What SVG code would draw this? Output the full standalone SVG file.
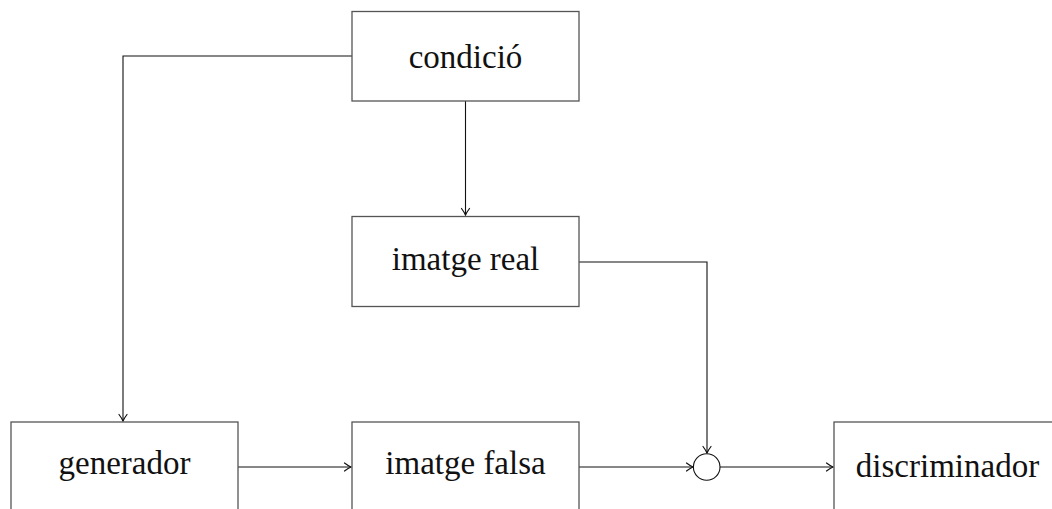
<svg xmlns="http://www.w3.org/2000/svg" width="1052" height="509" viewBox="0 0 1052 509">
<style>
.box{fill:#fff;stroke:#555;stroke-width:1.3}
.lbl{font-family:"Liberation Serif","Times New Roman",serif;font-size:33px;fill:#111;text-anchor:middle}
.c{fill:none;stroke:#111;stroke-width:1.1}
</style>
<defs>
<marker id="arr" markerUnits="userSpaceOnUse" markerWidth="12" markerHeight="12" viewBox="-8 -6 10 12" refX="0" refY="0" orient="auto">
<path d="M-6.5,-4 Q-2.5,-1 0,0 Q-2.5,1 -6.5,4" fill="none" stroke="#111" stroke-width="1.2" stroke-linecap="round"/>
</marker>
</defs>
<rect width="1052" height="509" fill="#fff"/>
<g id="connectors">
<path class="c" d="M352,56 H123 V421" marker-end="url(#arr)"/>
<path class="c" d="M465.5,101 V215" marker-end="url(#arr)"/>
<path class="c" d="M579,262 H707 V453" marker-end="url(#arr)"/>
<path class="c" d="M238,467 H351" marker-end="url(#arr)"/>
<path class="c" d="M579,467 H693" marker-end="url(#arr)"/>
<path class="c" d="M720,467 H833" marker-end="url(#arr)"/>
</g>
<g id="condicio">
<rect class="box" x="352" y="11.5" width="227" height="89.5"/>
<text class="lbl" x="465.5" y="68">condició</text>
</g>
<g id="imatge-real">
<rect class="box" x="352" y="216.5" width="227" height="90"/>
<text class="lbl" x="465.5" y="270">imatge real</text>
</g>
<g id="generador">
<rect class="box" x="11" y="422" width="227" height="90"/>
<text class="lbl" x="124.5" y="474">generador</text>
</g>
<g id="imatge-falsa">
<rect class="box" x="352" y="422" width="227" height="90"/>
<text class="lbl" x="465.5" y="474">imatge falsa</text>
</g>
<g id="suma">
<circle cx="706.7" cy="467" r="13.3" fill="#fff" stroke="#111" stroke-width="1.1"/>
</g>
<g id="discriminador">
<rect class="box" x="834" y="422" width="227" height="90"/>
<text class="lbl" x="947.5" y="477">discriminador</text>
</g>
</svg>
